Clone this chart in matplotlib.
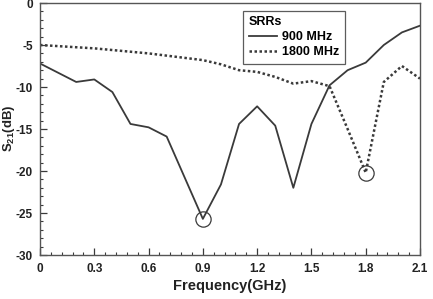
import matplotlib
matplotlib.use("Agg")
import matplotlib.pyplot as plt
from matplotlib.ticker import MultipleLocator

plt.rcParams['font.family'] = ['Liberation Sans', 'DejaVu Sans']
plt.rcParams['axes.unicode_minus'] = False
plt.rcParams['mathtext.fontset'] = 'custom'
plt.rcParams['mathtext.rm'] = 'Liberation Sans:bold'
plt.rcParams['mathtext.bf'] = 'Liberation Sans:bold'
plt.rcParams['mathtext.it'] = 'Liberation Sans:bold'

f900 = [0.0, 0.2, 0.3, 0.4, 0.5, 0.6, 0.7, 0.9, 1.0, 1.1, 1.2, 1.3, 1.4, 1.5, 1.6, 1.7, 1.8, 1.9, 2.0, 2.1]
s900 = [-7.2, -9.4, -9.1, -10.6, -14.4, -14.8, -15.9, -25.7, -21.6, -14.4, -12.3, -14.6, -22.0, -14.4, -9.8, -8.0, -7.1, -5.0, -3.5, -2.7]

f1800 = [0.0, 0.3, 0.6, 0.9, 1.0, 1.1, 1.2, 1.3, 1.4, 1.5, 1.6, 1.7, 1.8, 1.9, 2.0, 2.1]
s1800 = [-5.0, -5.4, -6.0, -6.8, -7.3, -8.0, -8.2, -8.8, -9.6, -9.3, -9.9, -15.0, -20.2, -9.4, -7.5, -9.0]

mark_f = [0.9, 1.8]
mark_s = [-25.7, -20.2]

xticks = [0, 0.3, 0.6, 0.9, 1.2, 1.5, 1.8, 2.1]
xticklabels = ['0', '0.3', '0.6', '0.9', '1.2', '1.5', '1.8', '2.1']
yticks = [0, -5, -10, -15, -20, -25, -30]

fig = plt.figure(figsize=(4.33, 2.99), dpi=100)
ax = fig.add_axes([40/433, 1-255/299, 380/433, 252/299])
c = '#3a3a3a'
ax.plot(f900, s900, color=c, lw=1.3, ls='-', label='900 MHz')
ax.plot(f1800, s1800, color=c, lw=1.8, ls=(0, (1, 1)), label='1800 MHz')
ax.plot(mark_f, mark_s, ls='none', marker='o', ms=11, mfc='none', mec=c, mew=0.9)

ax.set_xlim(0, 2.1)
ax.set_ylim(-30, 0)
ax.set_xticks(xticks)
ax.set_xticklabels(xticklabels)
ax.set_yticks(yticks)
ax.xaxis.set_minor_locator(MultipleLocator(0.06))
ax.yaxis.set_minor_locator(MultipleLocator(1))
ax.tick_params(which='both', direction='in', top=False, right=False, labelsize=8.5, color=c)
ax.tick_params(axis='y', pad=5)
ax.tick_params(axis='x', pad=6)
ax.tick_params(which='major', length=5, width=0.9)
ax.tick_params(which='minor', length=2.5, width=0.8)
for lab in ax.get_xticklabels() + ax.get_yticklabels():
    lab.set_fontweight('bold')
    lab.set_color('#222222')
for sp in ax.spines.values():
    sp.set_color('#555555')
    sp.set_linewidth(1.0)

ax.set_xlabel('Frequency(GHz)', fontsize=10.5, fontweight='bold', color='#222222')
ax.xaxis.set_label_coords(0.5, -(279 - 255) / 252, transform=ax.transAxes)
ax.set_ylabel('S$_{21}$(dB)', fontsize=9.5, fontweight='bold', color='#222222')
ax.yaxis.set_label_coords(-(40 - 17) / 380, 0.5 - (128 - 129) / 252, transform=ax.transAxes)

leg = ax.legend(title='SRRs', loc='upper left', bbox_to_anchor=(203/380, 1-7.5/252),
                frameon=True, fancybox=False, edgecolor='#333333',
                prop={'weight': 'bold', 'size': 9}, handlelength=2.3, handletextpad=0.35,
                borderpad=0.45, labelspacing=0.25, borderaxespad=0)
leg.get_title().set_fontweight('bold')
leg.get_title().set_fontsize(9)
leg._legend_box.align = 'left'
leg.get_frame().set_linewidth(0.9)

fig.savefig('out.png', dpi=100)
